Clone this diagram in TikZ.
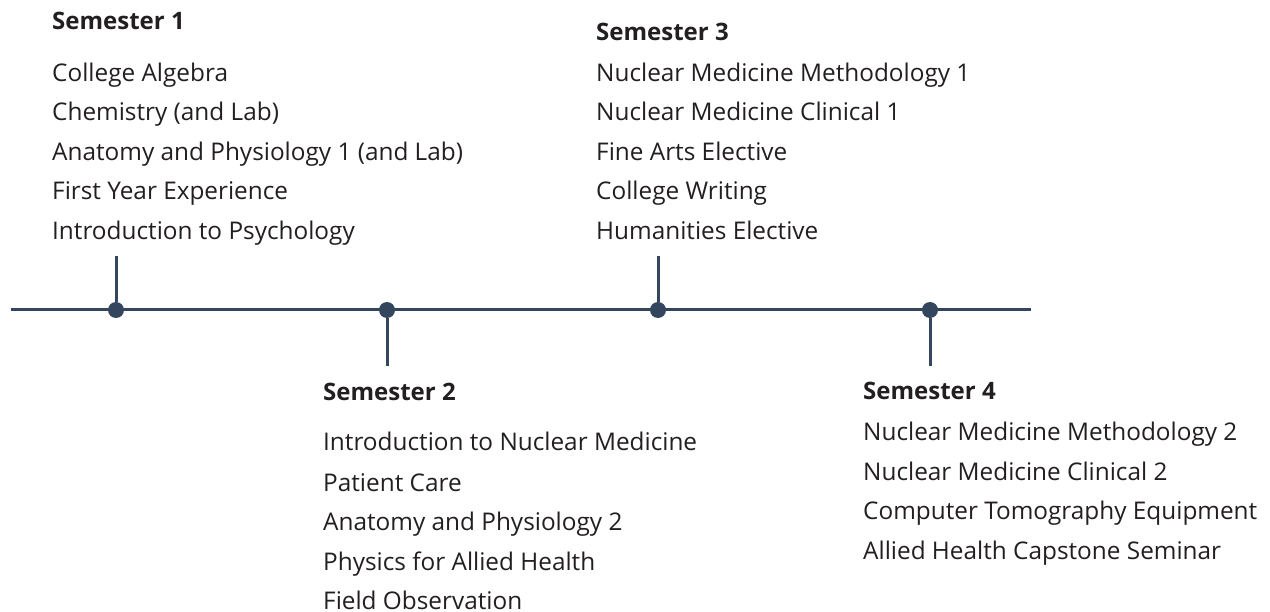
\documentclass[tikz,border=0pt]{standalone}
\usepackage{fontspec}
\setmainfont{Open Sans}
\definecolor{linec}{RGB}{52,70,94}
\definecolor{txt}{RGB}{35,31,32}
\begin{document}
\begin{tikzpicture}[x=1pt,y=-1pt,
  item/.style={anchor=base west,inner sep=0pt,text=txt,font=\fontsize{24.35}{28}\selectfont},
  head/.style={item,font=\fontsize{24}{28}\selectfont\bfseries},
  dot/.style={circle,fill=linec,minimum size=16pt,inner sep=0pt},
  conn/.style={draw=linec,line width=3pt}]
\useasboundingbox (0,0) rectangle (1270,612);
% timeline
\coordinate (L) at (11,310);
\coordinate (R) at (1031,310);
\draw[conn] (L) -- (R);
\node[dot] (d1) at (116,310) {};
\node[dot] (d2) at (387,310) {};
\node[dot] (d3) at (658,310) {};
\node[dot] (d4) at (930,310) {};
\coordinate (s1) at (116,256);
\coordinate (s2) at (387,366);
\coordinate (s3) at (658,256);
\coordinate (s4) at (930,366);
\draw[conn] (s1) -- (d1);
\draw[conn] (s2) -- (d2);
\draw[conn] (s3) -- (d3);
\draw[conn] (s4) -- (d4);
% Semester 1
\node[head] (h1) at (52,30) {Semester 1};
\node[item] (a1) at (52,81.5) {College Algebra};
\node[item] (a2) at (52,121) {Chemistry (and Lab)};
\node[item] (a3) at (52,160.5) {Anatomy and Physiology 1 (and Lab)};
\node[item] (a4) at (52,200) {First Year Experience};
\node[item] (a5) at (52,239.5) {Introduction to Psychology};
% Semester 3
\node[head] (h3) at (596,41) {Semester 3};
\node[item] (c1) at (596,81.5) {Nuclear Medicine Methodology 1};
\node[item] (c2) at (596,121) {Nuclear Medicine Clinical 1};
\node[item] (c3) at (596,160.5) {Fine Arts Elective};
\node[item] (c4) at (596,200) {College Writing};
\node[item] (c5) at (596,239.5) {Humanities Elective};
% Semester 2
\node[head] (h2) at (323,401) {Semester 2};
\node[item] (b1) at (323,450.5) {Introduction to Nuclear Medicine};
\node[item] (b2) at (323,491) {Patient Care};
\node[item] (b3) at (323,530.5) {Anatomy and Physiology 2};
\node[item] (b4) at (323,570) {Physics for Allied Health};
\node[item] (b5) at (323,609) {Field Observation};
% Semester 4
\node[head] (h4) at (863,400) {Semester 4};
\node[item] (e1) at (863,440.5) {Nuclear Medicine Methodology 2};
\node[item] (e2) at (863,480) {Nuclear Medicine Clinical 2};
\node[item] (e3) at (863,519.5) {Computer Tomography Equipment};
\node[item] (e4) at (863,559) {Allied Health Capstone Seminar};
\end{tikzpicture}
\end{document}
